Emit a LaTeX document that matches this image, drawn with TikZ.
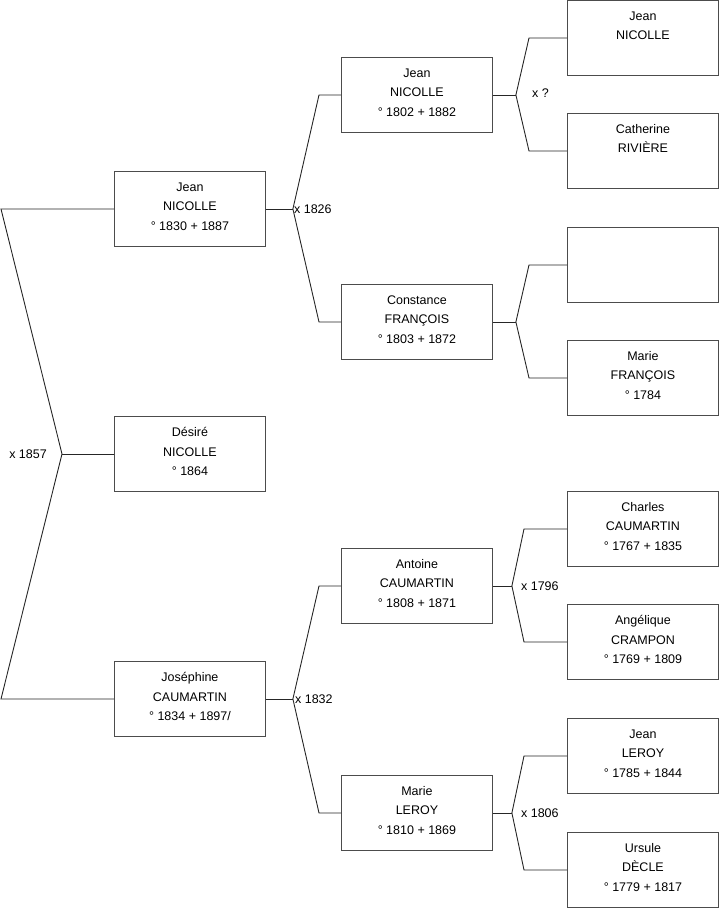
\documentclass[tikz,border=0pt]{standalone}
\usepackage{fontspec}
\setmainfont{Liberation Sans}
\usetikzlibrary{positioning}
\begin{document}
\begin{tikzpicture}[x=1pt, y=-1pt,
  person/.style={draw=black!70, line width=0.9pt, minimum width=151pt, minimum height=75pt,
    inner sep=0pt, align=center, anchor=north west, font=\fontsize{12.5}{19.5}\selectfont,
    execute at end node={\rule[-5pt]{0pt}{0pt}}},
  link/.style={draw=black!85, line width=0.9pt},
  wed/.style={font=\fontsize{12.5}{14}\selectfont, inner sep=1pt}]
\useasboundingbox (0,0) rectangle (719,908);
% generation 1: the child and its parents
\node[person] (p1) at (114,171) {Jean\\NICOLLE\\° 1830 + 1887};
\node[person] (p2) at (114,416) {Désiré\\NICOLLE\\° 1864};
\node[person] (p3) at (114,661) {Joséphine\\CAUMARTIN\\° 1834 + 1897/};
% generation 2: grandparents
\node[person] (g1) at (341,57)  {Jean\\NICOLLE\\° 1802 + 1882};
\node[person] (g2) at (341,284) {Constance\\FRANÇOIS\\° 1803 + 1872};
\node[person] (g3) at (341,548) {Antoine\\CAUMARTIN\\° 1808 + 1871};
\node[person] (g4) at (341,775) {Marie\\LEROY\\° 1810 + 1869};
% generation 3: great-grandparents
\node[person] (a1) at (567,0)   {Jean\\NICOLLE\\~};
\node[person] (a2) at (567,113) {Catherine\\RIVIÈRE\\~};
\node[person] (a3) at (567,227) {};
\node[person] (a4) at (567,340) {Marie\\FRANÇOIS\\° 1784};
\node[person] (a5) at (567,491) {Charles\\CAUMARTIN\\° 1767 + 1835};
\node[person] (a6) at (567,604) {Angélique\\CRAMPON\\° 1769 + 1809};
\node[person] (a7) at (567,718) {Jean\\LEROY\\° 1785 + 1844};
\node[person] (a8) at (567,832) {Ursule\\DÈCLE\\° 1779 + 1817};
% forks
\coordinate (f0) at ([xshift=-52]p2.west);
\coordinate (f1) at ([xshift=27]p1.east);
\coordinate (f2) at ([xshift=27]p3.east);
\coordinate (f3) at ([xshift=23]g1.east);
\coordinate (f4) at ([xshift=23]g2.east);
\coordinate (f5) at ([xshift=19]g3.east);
\coordinate (f6) at ([xshift=19]g4.east);
% connectors
\draw[link] (p2.west) -- (f0);
\draw[link] (f0) -- ([xshift=-113]p1.west) -- (p1.west);
\draw[link] (f0) -- ([xshift=-113]p3.west) -- (p3.west);
\draw[link] (p1.east) -- (f1);
\draw[link] (f1) -- ([xshift=-22]g1.west) -- (g1.west);
\draw[link] (f1) -- ([xshift=-22]g2.west) -- (g2.west);
\draw[link] (p3.east) -- (f2);
\draw[link] (f2) -- ([xshift=-22]g3.west) -- (g3.west);
\draw[link] (f2) -- ([xshift=-22]g4.west) -- (g4.west);
\draw[link] (g1.east) -- (f3);
\draw[link] (f3) -- ([xshift=-38]a1.west) -- (a1.west);
\draw[link] (f3) -- ([xshift=-38]a2.west) -- (a2.west);
\draw[link] (g2.east) -- (f4);
\draw[link] (f4) -- ([xshift=-38]a3.west) -- (a3.west);
\draw[link] (f4) -- ([xshift=-38]a4.west) -- (a4.west);
\draw[link] (g3.east) -- (f5);
\draw[link] (f5) -- ([xshift=-43]a5.west) -- (a5.west);
\draw[link] (f5) -- ([xshift=-43]a6.west) -- (a6.west);
\draw[link] (g4.east) -- (f6);
\draw[link] (f6) -- ([xshift=-43]a7.west) -- (a7.west);
\draw[link] (f6) -- ([xshift=-43]a8.west) -- (a8.west);
% marriages
\node[wed, left=14pt of f0] (m0) {x 1857};
\node[wed, right=0pt of f1] (m1) {x 1826};
\node[wed, right=1pt of f2] (m2) {x 1832};
\node[wed, right=15pt of f3, yshift=2pt] (m3) {x ?};
\node[wed, right=8pt of f5] (m5) {x 1796};
\node[wed, right=8pt of f6] (m6) {x 1806};
\end{tikzpicture}
\end{document}
